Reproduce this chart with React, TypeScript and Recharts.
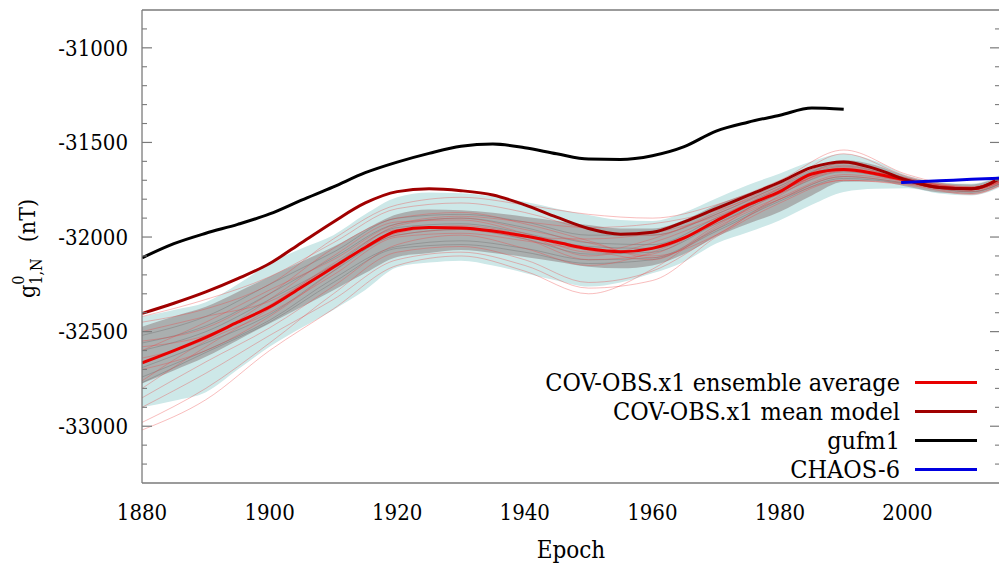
import React from 'react';
import { ComposedChart, Line, Area, XAxis, YAxis, Legend } from 'recharts';

const FONT = '"DejaVu Serif Condensed", "DejaVu Serif", serif';
const AXIS = '#7a7a7a';
// axes are given a negligible thickness so they do not push the plot area around
const THIN = 0.01;

// Sampling epochs
const years = [1880, 1885, 1890, 1895, 1900, 1905, 1910, 1915, 1920, 1925, 1930, 1935, 1940, 1945,
  1950, 1955, 1960, 1965, 1970, 1975, 1980, 1985, 1990, 1995, 2000, 2005, 2010, 2015];
const decadeYears = [1880, 1890, 1900, 1910, 1920, 1930, 1940, 1950, 1960, 1970, 1980, 1990, 2000, 2010, 2015];
const gufmYears = [1880, 1885, 1890, 1895, 1900, 1905, 1910, 1915, 1920, 1925, 1930, 1935, 1940, 1945,
  1950, 1955, 1960, 1965, 1970, 1975, 1980, 1985, 1990];
const chaosYears = [1999, 2005, 2010, 2015];

// Main models, g10 in nT
const ensembleAverage = [-32665, -32600, -32530, -32450, -32370, -32265, -32160, -32055, -31968, -31950,
  -31952, -31968, -31995, -32028, -32062, -32078, -32060, -32005, -31915, -31830, -31760, -31667, -31643,
  -31665, -31702, -31738, -31745, -31680];
const meanModel = [-32404, -32350, -32290, -32220, -32140, -32030, -31920, -31820, -31760, -31745,
  -31755, -31778, -31830, -31895, -31955, -31985, -31975, -31920, -31850, -31780, -31710, -31632, -31603,
  -31640, -31700, -31738, -31745, -31680];
const gufm1 = [-32110, -32035, -31980, -31933, -31878, -31805, -31735, -31660, -31604, -31558, -31520,
  -31508, -31528, -31560, -31588, -31590, -31570, -31522, -31440, -31393, -31356, -31318, -31324];
const chaos6 = [-31712, -31703, -31695, -31688];

// Ensemble envelope (outer) and dense core, upper / lower bounds
const envelopeUpper = [-32420, -32385, -32345, -32250, -32140, -32060, -31990, -31880, -31790, -31765,
  -31768, -31785, -31814, -31850, -31884, -31910, -31915, -31870, -31796, -31725, -31664, -31600, -31560,
  -31600, -31675, -31710, -31718, -31665];
const envelopeLower = [-32900, -32865, -32820, -32700, -32580, -32480, -32385, -32280, -32160, -32135,
  -32125, -32150, -32190, -32230, -32262, -32240, -32192, -32130, -32034, -31975, -31911, -31830, -31762,
  -31745, -31742, -31770, -31780, -31730];
const coreUpper = [-32474, -32420, -32369, -32290, -32210, -32130, -32052, -31960, -31880, -31855,
  -31858, -31872, -31893, -31915, -31937, -31955, -31955, -31910, -31831, -31770, -31708, -31640, -31593,
  -31620, -31681, -31715, -31722, -31672];
const coreLower = [-32774, -32705, -32633, -32545, -32457, -32370, -32281, -32190, -32105, -32085,
  -32069, -32085, -32105, -32130, -32157, -32165, -32150, -32090, -31999, -31930, -31867, -31780, -31708,
  -31705, -31734, -31765, -31772, -31720];

// Individual ensemble members (decadal samples)
const redMembers = [
  [-32420, -32330, -32210, -32030, -31850, -31820, -31870, -31960, -31990, -31870, -31720, -31600, -31690, -31740, -31695],
  [-32980, -32800, -32560, -32300, -32080, -32050, -32120, -32240, -32180, -31990, -31800, -31680, -31715, -31760, -31710],
  [-32550, -32480, -32300, -32060, -31900, -31870, -31930, -32020, -32110, -31960, -31740, -31620, -31700, -31750, -31700],
  [-32850, -32660, -32480, -32260, -32040, -31990, -32060, -32150, -32080, -31930, -31790, -31670, -31705, -31735, -31690],
  [-32700, -32600, -32420, -32180, -31940, -31900, -31960, -32030, -32100, -31990, -31780, -31630, -31695, -31748, -31705],
  [-32600, -32450, -32280, -32120, -31930, -31890, -31920, -31950, -31930, -31860, -31730, -31560, -31680, -31740, -31690],
  [-33020, -32860, -32600, -32380, -32150, -32100, -32180, -32300, -32170, -31950, -31800, -31700, -31720, -31770, -31720],
  [-32500, -32420, -32340, -32150, -31980, -31940, -31990, -32100, -32030, -31900, -31760, -31640, -31700, -31742, -31700],
  [-32760, -32550, -32400, -32200, -32000, -31980, -32020, -32070, -32120, -31940, -31770, -31650, -31710, -31752, -31708],
  [-32640, -32540, -32330, -32100, -31920, -31910, -31980, -32080, -32010, -31880, -31740, -31610, -31690, -31745, -31698],
  [-32450, -32380, -32250, -32010, -31830, -31790, -31830, -31880, -31900, -31830, -31700, -31540, -31670, -31735, -31690],
  [-32900, -32720, -32520, -32330, -32120, -32080, -32150, -32270, -32230, -32000, -31820, -31700, -31725, -31775, -31720],
  [-32580, -32520, -32360, -32140, -31960, -31950, -32010, -32120, -32090, -31910, -31755, -31635, -31700, -31745, -31700],
  [-32800, -32580, -32380, -32160, -31990, -31960, -32000, -32010, -31980, -31890, -31750, -31650, -31705, -31750, -31702],
];
const grayMembers = [
  [-32520, -32420, -32250, -32080, -31900, -31880, -31920, -31990, -31990, -31880, -31730, -31610, -31690, -31745, -31695],
  [-32740, -32600, -32440, -32220, -32050, -32020, -32060, -32120, -32110, -31960, -31800, -31680, -31715, -31760, -31710],
  [-32600, -32500, -32330, -32150, -31950, -31930, -31980, -32050, -32060, -31920, -31760, -31640, -31700, -31748, -31700],
  [-32690, -32560, -32410, -32180, -31990, -31960, -32010, -32090, -32080, -31930, -31770, -31655, -31705, -31750, -31702],
  [-32560, -32470, -32300, -32110, -31930, -31900, -31950, -32030, -32040, -31900, -31745, -31625, -31695, -31742, -31696],
  [-32770, -32610, -32450, -32240, -32060, -32040, -32080, -32140, -32120, -31970, -31810, -31690, -31718, -31762, -31712],
];

// Axis ticks
const xDomain = [1880, 2014.5];
const yDomain = [-33300, -30800];
const xMajorTicks = [1880, 1900, 1920, 1940, 1960, 1980, 2000];
const xMinorTicks = [1885, 1890, 1895, 1905, 1910, 1915, 1925, 1930, 1935, 1945, 1950, 1955, 1965, 1970,
  1975, 1985, 1990, 1995, 2005, 2010];
const yMajorTicks = [-33000, -32500, -32000, -31500, -31000];
const yMinorTicks = [-33200, -33100, -32900, -32800, -32700, -32600, -32400, -32300, -32200, -32100,
  -31900, -31800, -31700, -31600, -31400, -31300, -31200, -31100, -30900];

const seriesNames = ['COV-OBS.x1 ensemble average', 'COV-OBS.x1 mean model', 'gufm1', 'CHAOS-6'];

const toPoints = (xs: number[], ys: number[]) => xs.map((year, i) => ({ year, value: ys[i] }));
const toBand = (xs: number[], lo: number[], hi: number[]) => xs.map((year, i) => ({ year, band: [lo[i], hi[i]] }));

const envelopeData = toBand(years, envelopeLower, envelopeUpper);
const coreData = toBand(years, coreLower, coreUpper);

const NoTick = () => <g />;

const YTitle = (props: any) => {
  const vb = props.viewBox || { x: 0, y: 0, height: 0 };
  const cx = 35;
  const cy = vb.y + vb.height / 2 + 2;
  return (
    <text
      x={cx}
      y={cy}
      transform={`rotate(-90 ${cx} ${cy})`}
      textAnchor="middle"
      style={{ fontFamily: FONT }}
      fontSize={23}
      fill="#000"
    >
      <tspan>g</tspan>
      <tspan fontSize={16} dy={-11}>0</tspan>
      <tspan fontSize={16} dx={-9} dy={18}>1,N</tspan>
      <tspan dx={16} dy={-7}>(nT)</tspan>
    </text>
  );
};

const LegendBox = (props: any) => {
  const items = (props.payload || [])
    .filter((p: any) => seriesNames.includes(p.value))
    .sort((a: any, b: any) => seriesNames.indexOf(a.value) - seriesNames.indexOf(b.value));
  return (
    <div style={{ fontFamily: FONT, fontSize: 25, color: '#000' }}>
      {items.map((p: any) => (
        <div key={p.value} style={{ display: 'flex', alignItems: 'center', justifyContent: 'flex-end', height: 29, lineHeight: '29px' }}>
          <span style={{ whiteSpace: 'nowrap' }}>{p.value}</span>
          <span style={{ display: 'inline-block', width: 62, height: 3, background: p.color, marginLeft: 15 }} />
        </div>
      ))}
    </div>
  );
};

const tickStyle = { fontSize: 22, fill: '#000', style: { fontFamily: FONT } };

export default function App() {
  return (
    <div style={{ position: 'absolute', left: 0, top: 0, width: 999, height: 570, overflow: 'hidden', background: '#fff' }}>
      <ComposedChart width={1000} height={570} margin={{ top: 10, right: 0, bottom: 87, left: 142 }}>
        {/* inward tick marks and frame */}
        <XAxis xAxisId="bMaj" type="number" orientation="bottom" mirror height={THIN} domain={xDomain} allowDataOverflow
          ticks={xMajorTicks} interval={0} tickSize={10} tick={NoTick}
          axisLine={{ stroke: AXIS, strokeWidth: 1.3 }} tickLine={{ stroke: AXIS, strokeWidth: 1.2 }} />
        <XAxis xAxisId="bMin" type="number" orientation="bottom" mirror height={THIN} domain={xDomain} allowDataOverflow
          ticks={xMinorTicks} interval={0} tickSize={5} tick={NoTick}
          axisLine={false} tickLine={{ stroke: AXIS, strokeWidth: 1.1 }} />
        <XAxis xAxisId="tMaj" type="number" orientation="top" mirror height={THIN} domain={xDomain} allowDataOverflow
          ticks={xMajorTicks} interval={0} tickSize={10} tick={NoTick}
          axisLine={{ stroke: AXIS, strokeWidth: 1.3 }} tickLine={{ stroke: AXIS, strokeWidth: 1.2 }} />
        <XAxis xAxisId="tMin" type="number" orientation="top" mirror height={THIN} domain={xDomain} allowDataOverflow
          ticks={xMinorTicks} interval={0} tickSize={5} tick={NoTick}
          axisLine={false} tickLine={{ stroke: AXIS, strokeWidth: 1.1 }} />
        <YAxis yAxisId="lMaj" type="number" orientation="left" mirror width={THIN} domain={yDomain} allowDataOverflow
          ticks={yMajorTicks} interval={0} tickSize={10} tick={NoTick}
          axisLine={{ stroke: AXIS, strokeWidth: 1.3 }} tickLine={{ stroke: AXIS, strokeWidth: 1.2 }} />
        <YAxis yAxisId="lMin" type="number" orientation="left" mirror width={THIN} domain={yDomain} allowDataOverflow
          ticks={yMinorTicks} interval={0} tickSize={5} tick={NoTick}
          axisLine={false} tickLine={{ stroke: AXIS, strokeWidth: 1.1 }} />
        <YAxis yAxisId="rMaj" type="number" orientation="right" mirror width={THIN} domain={yDomain} allowDataOverflow
          ticks={yMajorTicks} interval={0} tickSize={10} tick={NoTick}
          axisLine={{ stroke: AXIS, strokeWidth: 1.3 }} tickLine={{ stroke: AXIS, strokeWidth: 1.2 }} />
        <YAxis yAxisId="rMin" type="number" orientation="right" mirror width={THIN} domain={yDomain} allowDataOverflow
          ticks={yMinorTicks} interval={0} tickSize={5} tick={NoTick}
          axisLine={false} tickLine={{ stroke: AXIS, strokeWidth: 1.1 }} />

        {/* labelled axes */}
        <XAxis xAxisId="x" dataKey="year" type="number" orientation="bottom" height={THIN} domain={xDomain} allowDataOverflow
          ticks={xMajorTicks} interval={0} tickSize={0} tickMargin={21} tick={tickStyle}
          axisLine={false} tickLine={false}
          label={{ value: 'Epoch', position: 'bottom', offset: 58, fontSize: 24, fill: '#000', style: { fontFamily: FONT } }} />
        <YAxis yAxisId="y" type="number" orientation="left" width={THIN} domain={yDomain} allowDataOverflow
          ticks={yMajorTicks} interval={0} tickSize={0} tickMargin={14} tick={tickStyle}
          axisLine={false} tickLine={false}
          label={<YTitle />} />

        {/* ensemble spread */}
        <Area xAxisId="x" yAxisId="y" data={envelopeData} dataKey="band" type="monotone"
          fill="#cde8e8" fillOpacity={1} stroke="none" isAnimationActive={false} legendType="none" />
        <Area xAxisId="x" yAxisId="y" data={coreData} dataKey="band" type="monotone"
          fill="#9c9898" fillOpacity={0.72} stroke="none" isAnimationActive={false} legendType="none" />
        {grayMembers.map((m, i) => (
          <Line key={`g${i}`} xAxisId="x" yAxisId="y" data={toPoints(decadeYears, m)} dataKey="value" type="monotone"
            stroke="rgba(105,105,105,0.45)" strokeWidth={0.8} dot={false} activeDot={false}
            isAnimationActive={false} legendType="none" />
        ))}
        {redMembers.map((m, i) => (
          <Line key={`r${i}`} xAxisId="x" yAxisId="y" data={toPoints(decadeYears, m)} dataKey="value" type="monotone"
            stroke="rgba(235,70,70,0.45)" strokeWidth={0.8} dot={false} activeDot={false}
            isAnimationActive={false} legendType="none" />
        ))}

        {/* models */}
        <Line xAxisId="x" yAxisId="y" name={seriesNames[0]} data={toPoints(years, ensembleAverage)} dataKey="value"
          type="monotone" stroke="#e80000" strokeWidth={3} dot={false} activeDot={false} isAnimationActive={false} />
        <Line xAxisId="x" yAxisId="y" name={seriesNames[1]} data={toPoints(years, meanModel)} dataKey="value"
          type="monotone" stroke="#a00000" strokeWidth={3} dot={false} activeDot={false} isAnimationActive={false} />
        <Line xAxisId="x" yAxisId="y" name={seriesNames[2]} data={toPoints(gufmYears, gufm1)} dataKey="value"
          type="monotone" stroke="#000000" strokeWidth={3} dot={false} activeDot={false} isAnimationActive={false} />
        <Line xAxisId="x" yAxisId="y" name={seriesNames[3]} data={toPoints(chaosYears, chaos6)} dataKey="value"
          type="monotone" stroke="#0000e0" strokeWidth={3} dot={false} activeDot={false} isAnimationActive={false} />

        <Legend layout="vertical" align="center" verticalAlign="middle" content={<LegendBox />}
          wrapperStyle={{ position: 'absolute', top: 368, right: 23, left: 'auto', width: 'auto' }} />
      </ComposedChart>
    </div>
  );
}
